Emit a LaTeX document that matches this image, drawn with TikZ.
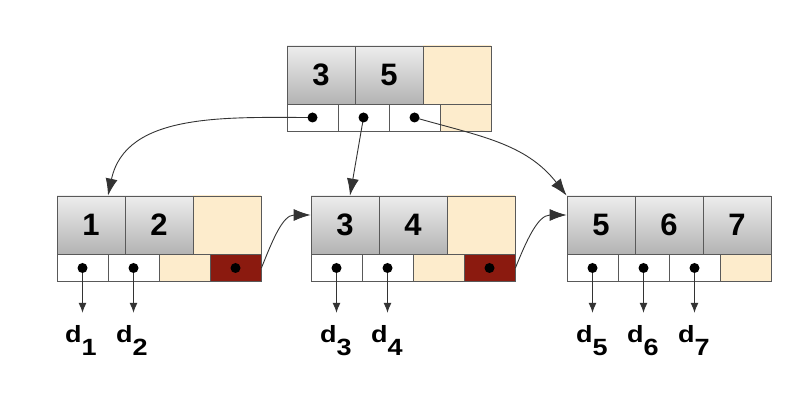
\documentclass[tikz,border=0pt]{standalone}
\usepackage{fontspec}
\setmainfont{Liberation Sans}
\usepackage{tikz}
\usetikzlibrary{arrows.meta}

\definecolor{slotfree}{RGB}{253,236,204}
\definecolor{slotlink}{RGB}{139,26,15}
\newcommand{\dsub}[1]{\scalebox{1.15}[1]{d}\raisebox{-13pt}{\scalebox{1.15}[1]{#1}}}

\begin{document}
\begin{tikzpicture}[x=1pt,y=1pt,
  keybox/.style={draw=black!65,line width=0.8pt,minimum width=68pt,minimum height=58pt,
    inner sep=0pt,top color=black!7,bottom color=black!30,
    font=\fontsize{31}{31}\selectfont\bfseries},
  freekey/.style={keybox,top color=slotfree,bottom color=slotfree},
  ptrbox/.style={draw=black!65,line width=0.8pt,minimum width=51pt,minimum height=27pt,
    inner sep=0pt,fill=white},
  freeptr/.style={ptrbox,fill=slotfree},
  linkptr/.style={ptrbox,fill=slotlink},
  dlabel/.style={anchor=base west,inner sep=0pt,font=\fontsize{23.5}{23.5}\selectfont\bfseries},
  bigarrow/.style={draw=black!80,line width=0.9pt,-{Latex[length=17pt,width=12pt]}},
  smallarrow/.style={draw=black!80,line width=0.9pt,-{Latex[length=10pt,width=8pt]},shorten >=13pt}]
\useasboundingbox (0,0) rectangle (795,417);

% Root node
\node[keybox]  (r1) at (321,342) {3};
\node[keybox]  (r2) at (389,342) {5};
\node[freekey] (r3) at (457,342) {};
\node[ptrbox]  (rp1) at (312.5,299.5) {};
\node[ptrbox]  (rp2) at (363.5,299.5) {};
\node[ptrbox]  (rp3) at (414.5,299.5) {};
\node[freeptr] (rp4) at (465.5,299.5) {};

% Leaf a
\node[keybox]  (a1) at (91,192) {1};
\node[keybox]  (a2) at (159,192) {2};
\node[freekey] (a3) at (227,192) {};
\node[ptrbox]  (ap1) at (82.5,149) {};
\node[ptrbox]  (ap2) at (133.5,149) {};
\node[freeptr] (ap3) at (184.5,149) {};
\node[linkptr] (ap4) at (235.5,149) {};

% Leaf b
\node[keybox]  (b1) at (345,192) {3};
\node[keybox]  (b2) at (413,192) {4};
\node[freekey] (b3) at (481,192) {};
\node[ptrbox]  (bp1) at (336.5,149) {};
\node[ptrbox]  (bp2) at (387.5,149) {};
\node[freeptr] (bp3) at (438.5,149) {};
\node[linkptr] (bp4) at (489.5,149) {};

% Leaf c
\node[keybox]  (c1) at (601,192) {5};
\node[keybox]  (c2) at (669,192) {6};
\node[keybox]  (c3) at (737,192) {7};
\node[ptrbox]  (cp1) at (592.5,149) {};
\node[ptrbox]  (cp2) at (643.5,149) {};
\node[ptrbox]  (cp3) at (694.5,149) {};
\node[freeptr] (cp4) at (745.5,149) {};

% Data labels
\node[dlabel] (d1) at (65,74) {\dsub{1}};
\node[dlabel] (d2) at (116,74) {\dsub{2}};
\node[dlabel] (d3) at (320,74) {\dsub{3}};
\node[dlabel] (d4) at (371,74) {\dsub{4}};
\node[dlabel] (d5) at (576,74) {\dsub{5}};
\node[dlabel] (d6) at (627,74) {\dsub{6}};
\node[dlabel] (d7) at (678,74) {\dsub{7}};

% Child pointers
\draw[bigarrow] (rp1.center) to[out=180,in=78] ([xshift=17pt]a1.north);
\draw[bigarrow] (rp2.center) -- ([xshift=5pt]b1.north);
\draw[bigarrow] (rp3.center) to[out=-16,in=128] (c1.north west);

% Sibling links
\draw[bigarrow] (ap4.east) to[out=68,in=180] ([yshift=10pt]b1.west);
\draw[bigarrow] (bp4.east) to[out=68,in=180] ([yshift=10pt]c1.west);

% Data pointers
\draw[smallarrow] (ap1.center) -- (ap1.center |- d1.north);
\draw[smallarrow] (ap2.center) -- (ap2.center |- d2.north);
\draw[smallarrow] (bp1.center) -- (bp1.center |- d3.north);
\draw[smallarrow] (bp2.center) -- (bp2.center |- d4.north);
\draw[smallarrow] (cp1.center) -- (cp1.center |- d5.north);
\draw[smallarrow] (cp2.center) -- (cp2.center |- d6.north);
\draw[smallarrow] (cp3.center) -- (cp3.center |- d7.north);

% Dots
\fill (rp1.center) circle (5pt);
\fill (rp2.center) circle (5pt);
\fill (rp3.center) circle (5pt);
\fill (ap1.center) circle (5pt);
\fill (ap2.center) circle (5pt);
\fill (ap4.center) circle (5pt);
\fill (bp1.center) circle (5pt);
\fill (bp2.center) circle (5pt);
\fill (bp4.center) circle (5pt);
\fill (cp1.center) circle (5pt);
\fill (cp2.center) circle (5pt);
\fill (cp3.center) circle (5pt);
\end{tikzpicture}
\end{document}
